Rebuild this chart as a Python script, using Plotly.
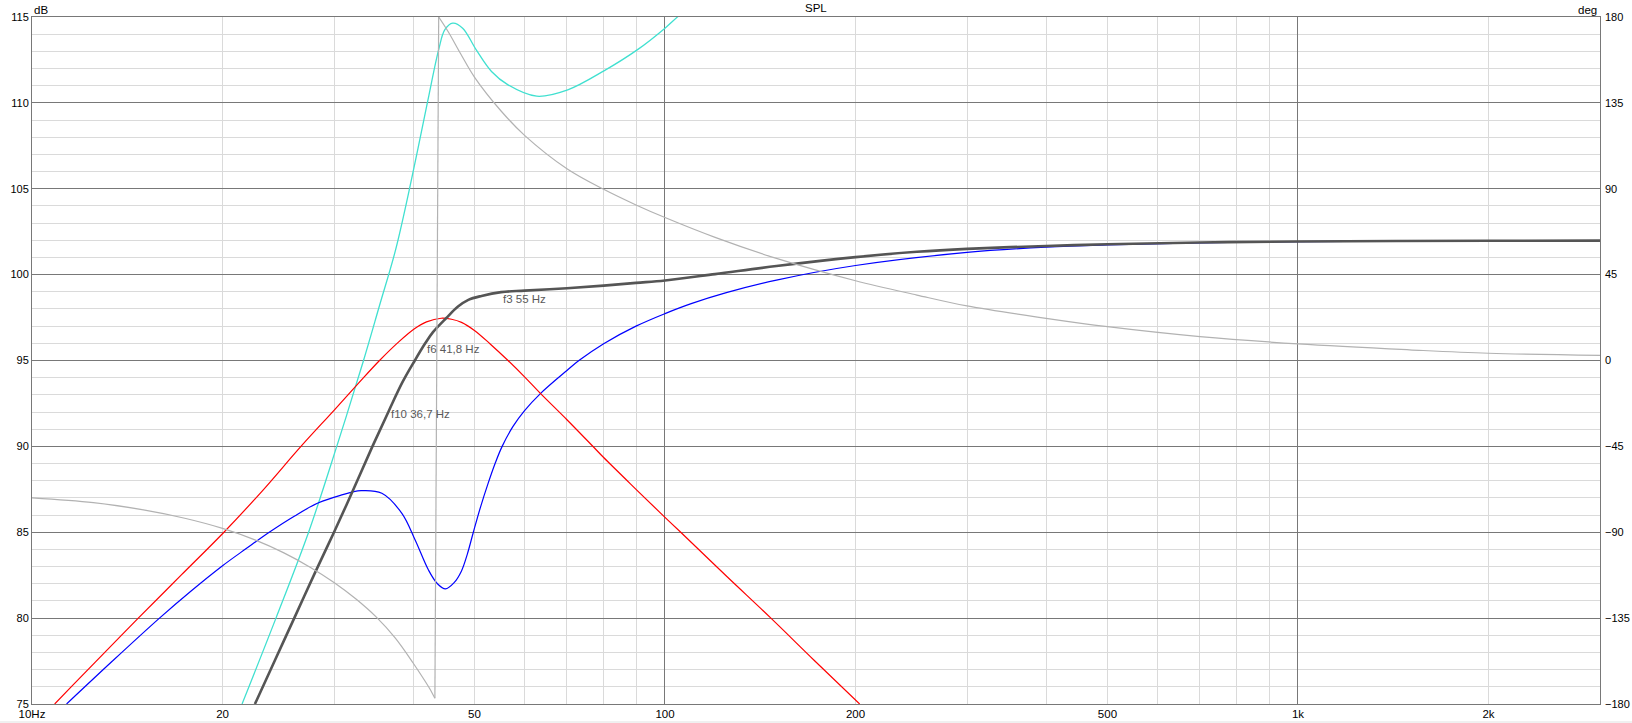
import numpy as np
import plotly.graph_objects as go

# ---------------- data ----------------
# Total SPL (dark thick line), dB
total_freq = [22.5, 24.2, 25.96, 28.0, 30.0, 32.2, 34.5, 36.6, 38.5, 40.25, 41.8, 43.0, 45.1,
              47.1, 48.9, 51.3, 55.1, 60, 70, 80, 90, 100, 120, 150, 200, 250, 300,
              400, 500, 700, 1000, 2000, 3000]
total_spl = [75, 77.55, 80, 82.65, 85, 87.5, 90, 92.05, 93.75, 95, 96.0, 96.65, 97.46,
             98.14, 98.53, 98.76, 98.98, 99.07, 99.21, 99.36, 99.52, 99.66, 100.03, 100.5,
             101.02, 101.33, 101.5, 101.67, 101.77, 101.87, 101.93, 101.97, 101.98]

# Port SPL (red), dB
port_freq = [10.86, 11.5, 12.6, 14.72, 17.2, 20.1, 23.1, 26.6, 30.0, 32.8, 35.4, 38.0, 40.2,
             42.0, 44.3, 46.0, 47.7, 50, 53, 56.5, 60, 63.5, 70, 76.7, 80, 90, 98.5, 105.9,
             125, 147, 172, 203]
port_spl = [75, 75.95, 77.45, 80, 82.5, 85, 87.4, 90, 92.1, 93.68, 95.0, 96.1, 96.85,
            97.25, 97.46, 97.4, 97.22, 96.75, 95.95, 95.0, 94.05, 93.1, 91.55, 90.05, 89.35,
            87.5, 86.1, 85, 82.45, 80, 77.55, 75]

# Cone SPL (blue), dB
cone_freq = [11.34, 13.4, 15.9, 17.8, 20.0, 21.8, 23.7, 26.0, 28.3, 30.7, 33.1, 35.7, 38.4,
             40.3, 42.3, 43.7, 45.0, 46.4, 47.7, 48.7, 49.8, 51.1, 52.5, 53.9, 55.3, 57.5, 60,
             63.5, 70, 73.2, 80, 90, 100, 110, 125, 150, 200, 300, 400, 500, 700, 1000, 2000,
             3000]
cone_spl = [75, 77.5, 80, 81.55, 83.05, 84.05, 85.0, 85.95, 86.7, 87.15, 87.42, 87.27, 86.1,
            84.55, 82.8, 82.0, 81.7, 82.05, 82.75, 83.7, 85.0, 86.45, 87.8, 89.0, 90.0, 91.15,
            92.08, 93.06, 94.42, 95.01, 95.98, 97.0, 97.73, 98.31, 98.95, 99.68, 100.53,
            101.29, 101.6, 101.73, 101.85, 101.92, 101.97, 101.98]

# Cyan curve, dB
cyan_freq = [21.47, 24.29, 27.35, 30.3, 33.4, 35.4, 37.53, 39.8, 42.15, 43.9, 44.9, 46.2,
             47.9, 50.3, 53.2, 56.5, 62.7, 70.2, 80.2, 90.5, 100, 104.6, 110]
cyan_val = [75, 80, 85, 90, 95, 98.2, 101.44, 105.6, 110.04, 113.1, 114.26, 114.64,
            114.35, 113.1, 111.83, 111.05, 110.39, 110.76, 111.88, 113.1, 114.35, 115, 115.7]

# Phase of total SPL (light grey), degrees, right axis (wraps at -180/+180)
phase_freq = [10, 12.5, 15, 17.5, 20, 22.5, 25, 27.5, 30, 32.5, 35, 37.5, 40, 41.5, 42.5,
              43.3, 43.9, 45.5, 47.5, 50, 55, 60, 70, 80, 90, 100, 120, 150, 200, 250, 300,
              400, 500, 700, 1000, 1500, 2000, 3000]
phase_deg = [-72, -74.5, -78.3, -82.8, -88, -94, -100.8, -108.3, -116.3, -125, -134.5,
             -145.5, -158.5, -166.5, -172, -177, 180, 172, 161, 148.5, 131, 118, 100.5, 89.7,
             81.5, 74.9, 64.5, 53.5, 41.8, 34.3, 28.6, 22.1, 17.7, 12.5, 8.7, 5.6, 3.8, 2.7]

# Marker labels on the total SPL curve
mark_freq = [36.7, 41.8, 55]
mark_level = [91.87, 95.67, 98.57]
mark_text = ["f10 36,7 Hz", "f6 41,8 Hz", "f3 55 Hz"]

# Axis ticks
x_label_vals = [10, 20, 50, 100, 200, 500, 1000, 2000]
x_label_text = ["10Hz", "20", "50", "100", "200", "500", "1k", "2k"]
x_decades = [10, 100, 1000]
x_minor = [20, 30, 40, 50, 60, 70, 80, 90, 200, 300, 400, 500, 600, 700, 800, 900, 2000, 3000]
x_min, x_max = 10, 3000
db_min, db_max = 75, 115
deg_min, deg_max = -180, 180

# ---------------- styling ----------------
FONT = "Liberation Sans, Arial, sans-serif"
FS = 11
MAJOR = "#787878"
MINOR = "#dadada"
TXT = "#000000"
SPL_LINE = dict(shape="spline", smoothing=1.0)

fig = go.Figure()

# phase (on the overlaid x2/y2 pair): split at the wrap so each branch can be smooth
wrap = int(np.argmax(np.abs(np.diff(phase_deg)) > 180))
ph_style = dict(color="#b2b2b2", width=1.2)
ph_axes = dict(xaxis="x2", yaxis="y2", mode="lines", hoverinfo="skip")
fig.add_trace(go.Scatter(x=phase_freq[:wrap + 1], y=phase_deg[:wrap + 1],
                         line=dict(**ph_style, **SPL_LINE), **ph_axes))
fig.add_trace(go.Scatter(x=phase_freq[wrap:wrap + 2], y=phase_deg[wrap:wrap + 2],
                         line=ph_style, **ph_axes))
fig.add_trace(go.Scatter(x=phase_freq[wrap + 1:], y=phase_deg[wrap + 1:],
                         line=dict(**ph_style, **SPL_LINE), **ph_axes))

fig.add_trace(go.Scatter(x=cyan_freq, y=cyan_val, mode="lines",
                         line=dict(color="#40e0d0", width=1.3, **SPL_LINE)))
fig.add_trace(go.Scatter(x=cone_freq, y=cone_spl, mode="lines",
                         line=dict(color="#0000ff", width=1.2, **SPL_LINE)))
fig.add_trace(go.Scatter(x=port_freq, y=port_spl, mode="lines",
                         line=dict(color="#ff0000", width=1.2, **SPL_LINE)))
fig.add_trace(go.Scatter(x=total_freq, y=total_spl, mode="lines",
                         line=dict(color="#555555", width=2.6, **SPL_LINE)))

for f, lv, t in zip(mark_freq, mark_level, mark_text):
    fig.add_annotation(x=np.log10(f), y=lv, xref="x", yref="y", text=t, showarrow=False,
                       xanchor="left", yanchor="middle",
                       font=dict(family=FONT, size=11.5, color="#5a5a5a"))

fig.add_annotation(x=0.5, y=1, xref="paper", yref="paper", text="SPL", showarrow=False,
                   xanchor="center", yanchor="middle", yshift=9,
                   font=dict(family=FONT, size=11.5, color=TXT))
fig.add_annotation(x=0, y=1, xref="paper", yref="paper", text="dB", showarrow=False,
                   xanchor="left", yanchor="middle", yshift=7,
                   font=dict(family=FONT, size=11.5, color=TXT))
fig.add_annotation(x=1, y=1, xref="paper", yref="paper", text="deg", showarrow=False,
                   xanchor="right", yanchor="middle", yshift=7, xshift=-1,
                   font=dict(family=FONT, size=11.5, color=TXT))

W, H = 1632, 723
ML, MR, MT, MB = 32, 32, 17, 19
pw, ph = W - ML - MR, H - MT - MB
fig.add_shape(type="rect", xref="paper", yref="paper",
              x0=-ML / pw, x1=1 + MR / pw, y0=-MB / ph, y1=-(MB - 2) / ph,
              fillcolor="#f0f0f0", line=dict(width=0), layer="below")

fig.update_layout(
    width=W, height=H, autosize=False,
    margin=dict(l=ML, r=MR, t=MT, b=MB, pad=0),
    paper_bgcolor="white", plot_bgcolor="white",
    showlegend=False,
    font=dict(family=FONT, size=FS, color=TXT),
    # primary x: decade grid (dark) + 2..9 grid (light), no labels
    xaxis=dict(type="log", range=[np.log10(x_min), np.log10(x_max)],
               tickmode="array", tickvals=x_decades, showticklabels=False,
               showgrid=True, gridcolor=MAJOR, gridwidth=1, zeroline=False,
               ticks="", showline=True, mirror=True, linecolor=MAJOR, linewidth=1,
               minor=dict(tickmode="array", tickvals=x_minor, showgrid=True,
                          gridcolor=MINOR, gridwidth=1, ticks=""),
               automargin=False),
    # overlaid x: the frequency labels
    xaxis2=dict(type="log", range=[np.log10(x_min), np.log10(x_max)], overlaying="x",
                anchor="y", side="bottom",
                tickmode="array", tickvals=x_label_vals, ticktext=x_label_text,
                showgrid=False, zeroline=False, ticks="", showline=False,
                ticklabelstandoff=1,
                tickfont=dict(family=FONT, size=11.5, color=TXT), automargin=False),
    yaxis=dict(range=[db_min, db_max], tickmode="linear", tick0=75, dtick=5,
               showgrid=True, gridcolor=MAJOR, gridwidth=1, zeroline=False,
               ticks="", showline=True, mirror=True, linecolor=MAJOR, linewidth=1,
               minor=dict(dtick=1, showgrid=True, gridcolor=MINOR, gridwidth=1, ticks=""),
               tickfont=dict(family=FONT, size=FS, color=TXT), automargin=False),
    yaxis2=dict(range=[deg_min, deg_max], overlaying="y", side="right", anchor="x",
                tickmode="linear", tick0=-180, dtick=45, showgrid=False, zeroline=False,
                ticks="", showline=False, ticklabelstandoff=4,
                tickfont=dict(family=FONT, size=FS, color=TXT), automargin=False),
)

fig.write_html(
    "out.html",
    config={"displayModeBar": False},
    post_script="document.body.style.margin='0px';"
                "document.documentElement.style.overflow='hidden';",
)
